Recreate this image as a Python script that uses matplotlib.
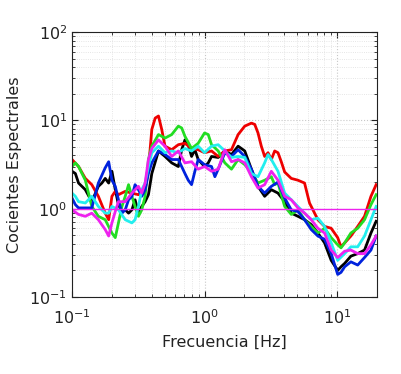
import matplotlib
matplotlib.use("Agg")
import matplotlib.pyplot as plt
from matplotlib.ticker import LogLocator, NullFormatter

# ---- data ----
f_red = [0.1, 0.112, 0.126, 0.141, 0.158, 0.178, 0.189, 0.200, 0.212, 0.224, 0.252, 0.283, 0.317, 0.356, 0.377,
         0.400, 0.424, 0.449, 0.475, 0.503, 0.565, 0.634, 0.711, 0.798, 0.895, 1.0, 1.129, 1.267, 1.422, 1.596,
         1.791, 2.01, 2.256, 2.39, 2.53, 2.68, 2.84, 3.01, 3.19, 3.38, 3.58, 3.79, 4.02, 4.51, 5.06, 5.68, 6.19,
         6.76, 7.16, 8.04, 9.02, 10.1, 10.7, 11.4, 12.7, 14.3, 16.1, 18.0, 19.7]
v_red = [3.6, 3.0, 2.2, 1.87, 1.38, 0.89, 0.75, 1.38, 1.57, 1.44, 1.57, 1.5, 1.44, 1.64, 2.8,
         7.9, 10.6, 11.2, 7.9, 5.1, 4.65, 5.3, 5.5, 4.8, 4.65, 4.3, 4.5, 3.9, 4.5, 4.65,
         6.9, 8.6, 9.3, 9.0, 7.2, 5.1, 3.9, 4.3, 3.6, 4.5, 4.3, 3.4, 2.6, 2.2, 2.1, 1.95, 1.16,
         0.89, 0.75, 0.63, 0.60, 0.47, 0.37, 0.41, 0.49, 0.63, 0.82, 1.38, 1.87]

f_green = [0.1, 0.106, 0.112, 0.126, 0.141, 0.158, 0.178, 0.200, 0.212, 0.224, 0.238, 0.252, 0.267, 0.283,
           0.299, 0.317, 0.336, 0.356, 0.377, 0.400, 0.449, 0.503, 0.565, 0.634, 0.672, 0.711, 0.798, 0.895,
           1.0, 1.066, 1.129, 1.267, 1.422, 1.596, 1.791, 2.01, 2.256, 2.53, 2.84, 3.19, 3.38, 3.58, 4.02,
           4.51, 5.06, 5.68, 6.38, 7.16, 8.04, 9.02, 10.1, 10.7, 11.4, 12.7, 14.3, 16.1, 18.0, 19.7]
v_green = [3.0, 3.3, 3.0, 2.1, 1.06, 0.82, 0.75, 0.53, 0.47, 0.69, 1.06, 1.38, 1.87, 1.38,
           1.06, 0.82, 0.97, 1.38, 3.6, 5.1, 6.9, 6.3, 6.9, 8.6, 8.2, 6.6, 4.8, 5.5,
           7.2, 6.9, 5.3, 4.5, 3.3, 2.8, 3.6, 3.15, 2.6, 1.95, 2.1, 2.3, 1.87, 1.95, 1.06,
           0.86, 0.97, 0.75, 0.63, 0.53, 0.60, 0.47, 0.39, 0.36, 0.41, 0.53, 0.60, 0.75, 1.11, 1.44]

f_black = [0.1, 0.106, 0.112, 0.126, 0.141, 0.158, 0.168, 0.178, 0.189, 0.200, 0.212, 0.224, 0.238, 0.252,
           0.267, 0.283, 0.299, 0.317, 0.336, 0.356, 0.377, 0.400, 0.449, 0.503, 0.565, 0.634, 0.672, 0.711,
           0.753, 0.798, 0.845, 0.895, 1.0, 1.066, 1.129, 1.267, 1.422, 1.596, 1.791, 2.01, 2.256, 2.53, 2.84,
           3.19, 3.58, 4.02, 4.51, 5.06, 5.68, 6.38, 7.16, 8.04, 9.02, 10.1, 10.7, 11.4, 12.7, 14.3, 16.1,
           18.0, 19.7]
v_black = [2.65, 2.5, 1.95, 1.64, 1.2, 1.79, 1.95, 2.2, 1.95, 2.65, 1.64, 1.11, 0.93, 0.97,
           0.89, 0.97, 1.26, 0.89, 1.06, 1.2, 1.44, 2.5, 4.5, 3.9, 3.3, 3.0, 4.65, 6.0,
           5.3, 3.9, 4.65, 3.6, 3.0, 3.3, 3.9, 3.8, 4.5, 4.1, 5.1, 4.5, 2.8, 1.79, 1.38,
           1.64, 1.5, 1.2, 0.89, 0.82, 0.75, 0.66, 0.53, 0.41, 0.26, 0.20, 0.22, 0.24, 0.29, 0.31, 0.34,
           0.53, 0.72]

f_blue = [0.1, 0.106, 0.112, 0.126, 0.141, 0.158, 0.178, 0.189, 0.200, 0.212, 0.224, 0.238, 0.252, 0.267,
          0.283, 0.299, 0.317, 0.336, 0.356, 0.377, 0.400, 0.449, 0.503, 0.565, 0.634, 0.711, 0.753, 0.798,
          0.845, 0.895, 1.0, 1.129, 1.196, 1.267, 1.422, 1.596, 1.791, 2.01, 2.256, 2.53, 2.84, 3.19, 3.58,
          4.02, 4.51, 5.06, 5.68, 6.38, 7.16, 8.04, 9.02, 10.1, 10.7, 11.4, 12.7, 14.3, 16.1, 18.0, 19.7]
v_blue = [1.32, 1.11, 1.02, 1.02, 1.02, 1.95, 2.9, 3.4, 2.1, 1.79, 1.26, 0.89, 0.97, 1.26,
          1.38, 1.87, 1.64, 1.38, 1.64, 2.5, 3.3, 4.5, 4.1, 3.6, 3.6, 2.5, 2.1, 1.87,
          2.65, 3.6, 3.15, 3.0, 2.3, 2.8, 4.3, 3.9, 4.65, 3.9, 2.8, 1.79, 1.5, 1.79, 2.0,
          1.32, 0.97, 0.93, 0.75, 0.58, 0.49, 0.45, 0.31, 0.18, 0.19, 0.22, 0.25, 0.23, 0.28, 0.34, 0.49]

f_cyan = [0.1, 0.106, 0.112, 0.126, 0.141, 0.158, 0.178, 0.189, 0.200, 0.224, 0.252, 0.283, 0.299, 0.317,
          0.336, 0.356, 0.377, 0.400, 0.449, 0.503, 0.565, 0.634, 0.711, 0.798, 0.895, 1.0, 1.129, 1.267,
          1.422, 1.596, 1.791, 2.01, 2.256, 2.53, 2.84, 3.01, 3.19, 3.58, 4.02, 4.51, 5.06, 5.68, 6.38,
          7.16, 8.04, 9.02, 10.1, 11.4, 12.7, 14.3, 16.1, 18.0, 19.7]
v_cyan = [1.5, 1.38, 1.2, 1.16, 1.38, 1.06, 0.89, 0.89, 1.06, 0.97, 0.75, 0.69, 0.75, 1.06,
          1.64, 1.95, 3.0, 4.3, 5.1, 4.3, 4.5, 4.3, 4.8, 4.5, 5.1, 4.3, 5.1, 5.3,
          4.5, 3.8, 3.9, 3.8, 2.5, 2.3, 3.3, 4.1, 3.6, 2.65, 1.5, 1.26, 1.06, 0.89, 0.75,
          0.78, 0.63, 0.41, 0.26, 0.31, 0.37, 0.37, 0.49, 0.75, 1.06]

f_mag = [0.1, 0.112, 0.126, 0.141, 0.158, 0.178, 0.189, 0.200, 0.212, 0.224, 0.252, 0.283, 0.317, 0.336,
         0.356, 0.377, 0.400, 0.449, 0.503, 0.565, 0.634, 0.711, 0.798, 0.895, 1.0, 1.129, 1.267, 1.422,
         1.596, 1.791, 2.01, 2.256, 2.53, 2.84, 3.19, 3.58, 4.02, 4.51, 5.06, 5.68, 6.38, 7.16, 8.04,
         9.02, 10.1, 11.4, 12.7, 14.3, 16.1, 18.0, 19.7]
v_mag = [0.97, 0.86, 0.82, 0.89, 0.75, 0.58, 0.49, 0.69, 0.93, 1.2, 1.2, 1.5, 1.79, 1.5,
         1.95, 3.6, 4.8, 6.0, 5.1, 3.9, 4.5, 3.3, 3.4, 2.8, 3.0, 2.65, 2.8, 4.65,
         3.4, 3.6, 3.3, 2.3, 1.71, 1.87, 2.65, 2.1, 1.38, 1.26, 1.02, 0.89, 0.75, 0.60, 0.53,
         0.34, 0.28, 0.33, 0.34, 0.31, 0.31, 0.39, 0.49]

ref_f = [0.1, 20]
ref_v = [1, 1]

xlabel = "Frecuencia [Hz]"
ylabel = "Cocientes Espectrales"

# ---- figure ----
fig = plt.figure(figsize=(4.01, 3.74), dpi=100)
ax = fig.add_axes([0.1796, 0.2059, 0.7606, 0.7085])

lw = 2.0
ax.plot(f_black, v_black, color="#000000", lw=lw)
ax.plot(f_red, v_red, color="#ee0000", lw=lw)
ax.plot(f_green, v_green, color="#22dd22", lw=lw)
ax.plot(f_blue, v_blue, color="#0022dd", lw=lw)
ax.plot(f_cyan, v_cyan, color="#22eeee", lw=lw)
ax.plot(f_mag, v_mag, color="#ee22ee", lw=lw)
ax.plot(ref_f, ref_v, color="#ee22ee", lw=1.0)

ax.set_xscale("log")
ax.set_yscale("log")
ax.set_xlim(0.1, 20)
ax.set_ylim(0.1, 100)

ax.xaxis.set_major_locator(LogLocator(base=10, numticks=10))
ax.yaxis.set_major_locator(LogLocator(base=10, numticks=10))
ax.xaxis.set_minor_locator(LogLocator(base=10, subs=range(2, 10), numticks=20))
ax.yaxis.set_minor_locator(LogLocator(base=10, subs=range(2, 10), numticks=20))
ax.xaxis.set_minor_formatter(NullFormatter())
ax.yaxis.set_minor_formatter(NullFormatter())

ax.grid(True, which="major", color="#c8c8c8", linestyle=":", linewidth=0.8)
ax.grid(True, which="minor", color="#dddddd", linestyle=":", linewidth=0.6)
ax.set_axisbelow(True)

ax.tick_params(which="both", direction="in", top=True, right=True, colors="#222222")
ax.tick_params(which="major", length=4, labelsize=11.5)
ax.tick_params(axis="x", which="major", pad=8.5)
ax.tick_params(which="minor", length=2)
for s in ax.spines.values():
    s.set_color("#222222")
    s.set_linewidth(0.8)

ax.set_xlabel(xlabel, fontsize=11.5, color="#222222", labelpad=5)
ax.set_ylabel(ylabel, fontsize=11.5, color="#222222", labelpad=5)

fig.savefig("out.png", dpi=100)
